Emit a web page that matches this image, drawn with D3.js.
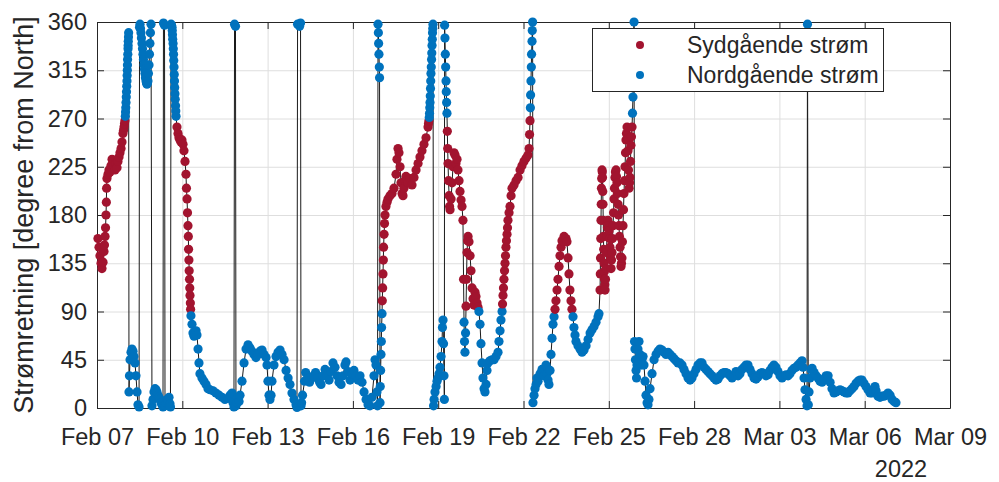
<!DOCTYPE html>
<html>
<head>
<meta charset="utf-8">
<script src="https://cdn.jsdelivr.net/npm/d3@7"></script>
<style>
  body { margin: 0; background: #fff; }
  text { font-family: "Liberation Sans", Arial, sans-serif; fill: #262626; }
</style>
</head>
<body>
<div id="chart"></div>
<script>
const w = 999;
const h = 482;

// hours after 2022-02-07 00:00 UTC, current direction in degrees from North
const startTime = Date.UTC(2022, 1, 7);
const obs = [
  [0.8,158],[1.7,150],[2.5,142],[3.4,135],[4.2,130],[5.1,136],[5.9,146],[6.3,152],[6.8,160],[7.2,168],
  [7.6,180],[7.9,192],[8.1,205],[8.4,214],[9.3,218],[10.1,222],[11.0,220],[11.8,226],[12.7,232],[13.5,230],
  [14.3,226],[15.2,222],[16.0,228],[16.9,224],[17.7,230],[18.6,234],[19.4,238],[20.3,242],[21.1,248],[21.9,256],
  [22.8,262],[23.6,268],[24.1,276],[24.5,285],[24.9,295],[25.3,305],[25.6,315],[25.8,325],[26.2,335],[26.4,342],
  [26.7,350],[27.0,15],[27.4,30],[27.9,45],[28.7,52],[29.5,55],[30.4,53],[31.2,48],[32.1,42],[32.9,30],
  [33.8,15],[34.6,3],[35.5,1],[36.3,358],[37.1,350],[38.0,340],[38.8,330],[39.7,320],[40.5,312],[41.4,305],
  [42.2,302],[43.0,305],[43.9,320],[44.7,340],[45.6,358],[46.4,2],[47.3,8],[48.1,15],[49.0,18],[49.8,17],
  [50.6,15],[51.5,12],[52.3,10],[53.2,8],[54.0,5],[54.9,3],[55.7,1],[56.1,359],[57.0,357],[57.4,2],
  [58.2,5],[59.1,8],[59.9,6],[60.8,10],[61.6,4],[62.0,1],[62.5,358],[63.3,355],[63.7,348],[64.2,340],
  [64.6,330],[65.0,318],[65.4,305],[65.8,293],[66.3,282],[66.7,272],[67.5,262],[68.4,256],[69.2,252],[70.1,250],
  [70.9,248],[71.7,250],[72.6,246],[73.4,240],[74.3,230],[75.1,218],[75.5,205],[76.0,195],[76.4,182],[76.8,170],
  [77.1,160],[77.3,148],[77.6,138],[77.8,128],[78.1,120],[78.3,112],[78.5,105],[78.8,98],[79.0,92],[79.3,86],
  [80.2,78],[81.0,70],[81.9,67],[82.7,68],[83.6,72],[84.4,68],[85.3,55],[86.1,42],[86.9,32],[88.6,28],
  [90.3,25],[92.0,22],[93.7,18],[95.4,17],[97.9,16],[100.4,14],[103.0,12],[105.5,10],[108.0,8],[110.6,9],
  [112.3,12],[114.0,14],[114.8,5],[115.6,1],[116.1,358],[116.9,356],[117.3,2],[118.2,5],[119.0,10],[119.9,6],
  [120.7,12],[122.4,25],[124.1,42],[125.8,55],[127.5,59],[129.2,56],[130.8,53],[132.5,50],[134.2,47],[135.9,50],
  [137.6,53],[139.3,54],[141.0,50],[142.7,47],[143.5,40],[144.3,25],[145.2,12],[146.0,8],[146.9,12],[147.7,25],
  [149.4,40],[151.1,48],[152.8,52],[154.5,54],[156.2,50],[157.9,45],[159.6,35],[161.3,28],[162.9,22],[164.6,14],
  [166.3,8],[168.0,3],[168.8,0.5],[169.3,358],[171.0,356],[171.8,359],[172.2,2],[172.7,5],[173.5,12],[175.2,25],
  [176.1,33],[177.8,28],[179.4,24],[181.1,28],[182.8,30],[184.5,33],[186.2,28],[187.9,24],[189.1,22],[190.8,30],
  [192.5,36],[194.2,30],[195.9,26],[197.5,34],[199.2,42],[200.9,38],[202.6,30],[204.3,24],[206.0,22],[207.7,30],
  [209.3,40],[210.2,43],[211.9,34],[213.6,26],[215.2,32],[216.9,35],[218.6,30],[220.3,26],[222.0,30],[223.7,24],
  [225.4,15],[227.1,8],[228.8,3],[230.4,2],[232.1,10],[233.8,30],[234.7,45],[235.5,40],[236.3,15],[236.8,2],
  [237.2,358],[237.5,350],[237.7,340],[238.0,330],[238.3,318],[238.5,308],[238.9,5],[239.1,20],[239.4,35],[239.7,50],
  [240.0,62],[240.2,75],[240.6,88],[240.8,100],[241.1,112],[241.4,125],[241.7,138],[241.9,150],[242.3,162],[242.7,172],
  [243.1,180],[243.9,188],[244.8,192],[245.6,195],[247.3,198],[249.0,200],[250.7,205],[252.4,218],[253.2,232],[254.1,242],
  [254.9,238],[255.8,225],[256.6,210],[257.5,200],[258.3,198],[259.1,205],[260.0,212],[260.8,216],[261.7,212],[262.5,210],
  [264.2,214],[265.9,208],[267.6,215],[269.3,222],[271.0,228],[272.6,234],[274.3,240],[276.0,246],[277.7,252],[279.4,262],
  [280.2,268],[280.7,275],[281.1,285],[281.5,298],[281.9,312],[282.4,325],[282.8,338],[283.2,350],[283.6,358],[284.1,2],
  [284.5,8],[285.3,15],[286.2,20],[287.0,25],[287.8,28],[288.7,32],[289.5,38],[290.4,48],[291.2,62],[291.6,75],
  [292.1,82],[292.5,60],[292.9,30],[293.2,8],[293.4,357],[293.7,345],[294.0,330],[294.3,318],[294.6,305],[294.8,295],
  [295.1,285],[295.4,275],[295.7,258],[296.0,242],[296.3,228],[296.7,212],[297.2,198],[297.6,188],[298.0,185],[298.9,195],
  [299.7,210],[300.5,225],[301.4,238],[302.2,236],[303.0,228],[303.9,232],[304.7,222],[305.6,212],[306.4,202],[307.3,194],
  [308.1,188],[308.9,175],[309.4,120],[309.8,80],[310.2,62],[310.6,52],[311.1,70],[311.5,95],[311.9,120],[312.3,145],
  [312.8,156],[313.2,160],[314.0,155],[314.9,142],[315.7,128],[316.6,112],[317.4,102],[318.2,96],[319.1,108],[319.9,104],
  [320.8,98],[321.6,94],[322.4,90],[323.3,78],[324.1,60],[325.0,42],[325.8,28],[326.7,18],[327.5,15],[328.4,22],
  [329.2,35],[330.0,42],[331.7,44],[333.4,45],[335.1,45],[336.8,48],[338.5,52],[339.3,62],[340.2,72],[341.0,82],
  [341.9,90],[342.7,105],[343.5,120],[344.4,135],[345.2,150],[346.1,162],[346.9,175],[347.8,182],[348.6,188],[349.5,198],
  [350.3,205],[352.0,208],[353.7,212],[355.4,215],[357.1,222],[358.7,226],[360.4,230],[362.1,233],[363.8,236],[364.7,242],
  [365.1,255],[365.5,268],[365.8,280],[366.0,292],[366.3,305],[366.6,318],[366.8,330],[367.2,342],[367.4,352],[367.7,360],
  [368.0,5],[368.9,12],[369.7,18],[370.6,22],[371.4,28],[372.3,25],[374.0,32],[375.6,36],[377.3,30],[379.0,40],
  [379.8,32],[380.7,26],[381.5,22],[382.4,35],[383.2,50],[384.1,65],[384.9,78],[385.8,85],[386.6,92],[387.4,100],
  [388.3,110],[389.1,120],[390.0,132],[390.8,142],[391.7,150],[392.5,156],[394.2,160],[395.9,158],[396.7,155],[397.6,140],
  [398.4,125],[399.2,110],[400.1,100],[400.9,92],[401.8,85],[402.6,75],[403.5,68],[404.3,62],[406.0,58],[407.7,55],
  [409.4,52],[411.1,54],[412.8,58],[414.5,64],[416.2,70],[417.8,73],[419.5,76],[421.2,80],[422.9,85],[423.7,88],
  [424.6,110],[425.0,140],[425.4,175],[425.8,205],[426.3,222],[426.7,215],[427.1,190],[427.5,160],[428.0,135],[428.4,120],
  [428.8,110],[429.6,130],[430.5,160],[431.3,175],[432.2,165],[433.0,150],[433.9,130],[434.7,145],[435.6,170],[436.4,195],
  [437.2,215],[438.1,222],[438.9,210],[439.8,190],[440.6,170],[441.5,150],[442.3,132],[443.1,140],[444.0,170],[444.8,200],
  [445.7,225],[446.5,250],[447.4,262],[448.2,240],[449.1,205],[449.9,215],[450.7,245],[451.6,262],[452.0,275],[452.4,290],
  [452.7,310],[452.9,340],[453.3,360],[453.7,62],[454.1,55],[454.5,45],[455.0,35],[455.4,28],[455.8,40],[456.6,55],
  [457.5,62],[458.3,50],[459.2,40],[460.0,45],[460.9,48],[461.7,40],[462.6,25],[463.4,12],[464.3,5],[465.1,3],
  [465.9,8],[466.8,18],[468.5,32],[470.2,45],[471.9,50],[473.6,53],[475.2,55],[476.9,54],[478.6,52],[480.3,50],
  [482.0,52],[483.7,50],[485.4,48],[487.1,46],[488.7,44],[490.4,42],[492.1,42],[493.8,40],[495.5,36],[497.2,32],
  [498.9,28],[500.6,26],[502.2,28],[503.9,32],[505.6,36],[507.3,40],[509.0,42],[510.7,42],[512.4,38],[514.1,36],
  [515.7,34],[517.4,32],[519.1,30],[520.8,28],[522.5,26],[524.2,27],[525.9,30],[527.6,32],[529.2,33],[530.9,33],
  [532.6,32],[534.3,30],[536.0,28],[537.7,30],[539.4,34],[541.1,30],[542.7,32],[544.4,36],[546.1,38],[547.8,40],
  [549.5,40],[551.2,36],[552.9,32],[554.6,28],[556.3,27],[557.9,29],[559.6,32],[561.3,33],[563.0,32],[564.7,30],
  [566.4,31],[568.1,35],[569.8,38],[571.4,40],[573.1,38],[574.8,34],[576.5,30],[578.2,28],[579.9,30],[581.6,31],
  [583.3,30],[584.9,32],[586.6,35],[588.3,37],[590.0,38],[591.7,40],[593.4,42],[595.1,44],[595.9,38],[596.8,28],
  [597.6,17],[598.5,8],[599.3,2],[599.7,358],[600.4,3],[601.0,15],[601.9,28],[602.7,36],[603.6,37],[605.3,33],
  [607.0,30],[608.6,28],[610.3,25],[612.0,24],[613.7,27],[615.4,30],[617.1,30],[618.8,24],[620.4,18],[622.1,14],
  [623.8,15],[625.5,16],[627.2,17],[628.9,16],[630.6,15],[632.3,14],[633.9,14],[635.6,16],[637.3,18],[639.0,20],
  [640.7,23],[642.4,25],[644.1,26],[645.7,26],[647.4,23],[649.1,20],[650.8,17],[652.5,14],[654.2,14],[655.9,18],
  [656.7,20],[657.6,16],[659.2,11],[660.9,10],[662.6,11],[664.3,11],[666.0,12],[667.7,14],[669.4,12],[671.1,8],
  [672.8,6],[674.4,5]
];

// extra readings where the direction turns fast and the reference shows dense columns of dots
const steepObs = [
  [22.4,259],[23.2,265],[23.9,272],[24.3,280],[24.7,290],[25.1,300],[25.45,310],[25.7,320],[26.0,330],[26.3,338],[26.55,346],
  [35.9,355],[36.7,354],[37.5,345],[38.4,335],[39.2,325],[40.1,316],[40.9,308],[41.8,303],[42.6,303],[43.4,312],[44.3,330],[45.1,350],
  [62.9,357],[63.5,352],[63.9,344],[64.4,335],[64.8,324],[65.2,311],[65.6,299],[66.0,288],[66.5,277],
  [279.8,265],[280.45,271],[280.9,280],[281.3,291],[281.7,305],[282.15,318],[282.6,331],[283.0,344],[283.4,354],
  [342.3,97],[343.1,112],[344.0,128],[344.8,142],[345.6,156],[346.5,168],
  [424.8,125],[425.2,158],[425.6,190],[426.0,214],[426.5,220],[426.9,202],[427.3,175],[427.7,148],[428.2,127],[428.6,115],
  [429.2,120],[430.0,145],[430.9,168],[431.7,170],[432.6,158],[433.4,140],[434.3,138],[435.1,158],[436.0,182],[436.8,205],
  [437.6,220],[438.5,216],[439.3,200],[440.2,180],[441.0,160],[441.9,141],[442.7,135],[443.5,155],[444.4,185],[445.2,212],
  [446.1,238],[446.9,256],[447.8,251],[448.6,222],[449.5,210],[450.3,230],[451.1,253]
];

const yTicks = [0, 45, 90, 135, 180, 225, 270, 315, 360];
const xTickDates = ["2022-02-07", "2022-02-10", "2022-02-13", "2022-02-16", "2022-02-19", "2022-02-22",
  "2022-02-25", "2022-02-28", "2022-03-03", "2022-03-06", "2022-03-09"];
const xDomain = ["2022-02-07", "2022-03-09"];
const yearLabel = "2022";
const seriesNames = ["Sydgående strøm", "Nordgående strøm"];

const red = "#A2142F";
const blue = "#0072BD";
const ink = "#262626";

const data = obs.concat(steepObs)
  .map(([hr, deg]) => ({ t: new Date(startTime + hr * 3600e3), deg }))
  .sort((a, b) => a.t - b.t);
const isSouth = (d) => d.deg > 90 && d.deg < 270;

const plotL = 97, plotR = 950, plotT = 22, plotB = 408;

const x = d3.scaleUtc(xDomain.map((s) => new Date(s + "T00:00:00Z")), [plotL, plotR]);
const y = d3.scaleLinear([0, 360], [plotB, plotT]);
const tickDates = xTickDates.map((s) => new Date(s + "T00:00:00Z"));

const svg = d3.select("#chart").append("svg").attr("width", w).attr("height", h);

// grid
svg.append("g")
  .attr("transform", `translate(0,${plotB})`)
  .call(d3.axisBottom(x).tickValues(tickDates).tickSize(-(plotB - plotT)).tickFormat(""))
  .call((g) => g.select(".domain").remove())
  .call((g) => g.selectAll("line").attr("stroke", "#dedede"));
svg.append("g")
  .attr("transform", `translate(${plotL},0)`)
  .call(d3.axisLeft(y).tickValues(yTicks).tickSize(-(plotR - plotL)).tickFormat(""))
  .call((g) => g.select(".domain").remove())
  .call((g) => g.selectAll("line").attr("stroke", "#dedede"));

// axes with inward ticks, box on
const styleAxis = (g) => {
  g.select(".domain").attr("stroke", ink);
  g.selectAll(".tick line").attr("stroke", ink);
  g.selectAll(".tick text").attr("fill", ink).style("font-size", "23.5px")
    .style("font-family", '"Liberation Sans", Arial, sans-serif');
};
svg.append("g")
  .attr("transform", `translate(0,${plotB})`)
  .call(d3.axisBottom(x).tickValues(tickDates).tickFormat(d3.utcFormat("%b %d"))
    .tickSizeInner(-7).tickSizeOuter(0).tickPadding(20))
  .call(styleAxis);
svg.append("g")
  .attr("transform", `translate(0,${plotT})`)
  .call(d3.axisTop(x).tickValues(tickDates).tickFormat("").tickSizeInner(-7).tickSizeOuter(0))
  .call(styleAxis);
svg.append("g")
  .attr("transform", `translate(${plotL},0)`)
  .call(d3.axisLeft(y).tickValues(yTicks).tickSizeInner(-7).tickSizeOuter(0).tickPadding(10))
  .call(styleAxis);
svg.append("g")
  .attr("transform", `translate(${plotR},0)`)
  .call(d3.axisRight(y).tickValues(yTicks).tickFormat("").tickSizeInner(-7).tickSizeOuter(0))
  .call(styleAxis);

// connecting line
svg.append("path")
  .datum(data)
  .attr("fill", "none")
  .attr("stroke", "#1a1a1a")
  .attr("stroke-width", 1)
  .attr("d", d3.line().x((d) => x(d.t)).y((d) => y(d.deg)));

// markers
svg.append("g")
  .selectAll("circle")
  .data(data)
  .join("circle")
  .attr("cx", (d) => x(d.t))
  .attr("cy", (d) => y(d.deg))
  .attr("r", 4.6)
  .attr("fill", (d) => (isSouth(d) ? red : blue));

// labels
svg.append("text")
  .attr("transform", `translate(33,${(plotT + plotB) / 2}) rotate(-90)`)
  .attr("text-anchor", "middle")
  .style("font-size", "27px")
  .text("Strømretning [degree from North]");
svg.append("text")
  .attr("x", 901)
  .attr("y", 477)
  .attr("text-anchor", "middle")
  .style("font-size", "23.5px")
  .text(yearLabel);

// legend
const lg = svg.append("g");
lg.append("rect")
  .attr("x", 592.5).attr("y", 28.5).attr("width", 291).attr("height", 63)
  .attr("fill", "#fff").attr("stroke", ink).attr("stroke-width", 1);
seriesNames.forEach((name, i) => {
  const cy = 45 + i * 30;
  lg.append("circle").attr("cx", 640).attr("cy", cy).attr("r", 4).attr("fill", i === 0 ? red : blue);
  lg.append("text").attr("x", 687).attr("y", cy + 8).style("font-size", "23px").text(name);
});
</script>
</body>
</html>
